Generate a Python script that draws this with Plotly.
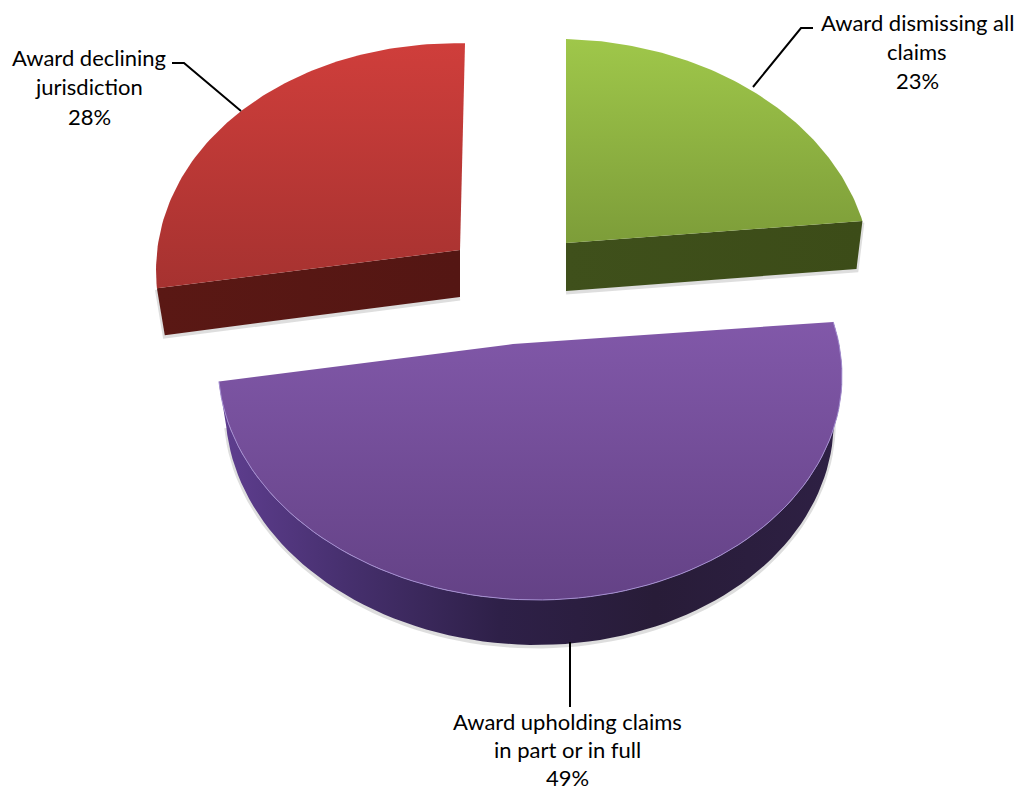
import numpy as np
import plotly.graph_objects as go

# ---- data ----
categories = ["Award dismissing all claims", "Award upholding claims in part or in full", "Award declining jurisdiction"]
values = [23, 49, 28]
label_lines = [["Award dismissing all", "claims"], ["Award upholding claims", "in part or in full"], ["Award declining", "jurisdiction"]]

# ---- drawing settings (one per slice) ----
disc_centre = [(566, 243), (530, 344), (465, 250)]
apex = [(566, 243), (513, 344), (460, 250)]
semi_x = [303, 310, 307]
semi_y = [227, 227, 230]
depth = [48, 45, 47]
shrink = [0.98, 0.975, 0.974]
persp = 0.113
tilt = 6
top_fill = [["#9fc74a", "#7d9d39"], ["#8158a9", "#644286"], ["#cf3e3b", "#a63230"]]
side_fill = [
    [[0, "#3f501b"], [1, "#3c4c18"]],
    [[0, "#5f3e90"], [0.2, "#47306f"], [0.45, "#2e2048"], [0.7, "#281c38"], [1, "#2e2044"]],
    [[0, "#5a1814"], [1, "#541613"]],
]
rim = [None, "#a48ed0", None]
label_pos = [(917, [22, 51, 80]), (567, [721, 749, 777]), (89, [57, 86, 116])]
leaders = [([813, 801, 753], [28, 28, 87]), ([570, 570], [642, 707]), ([172, 184, 241], [63, 63, 111])]
font_family = "Lato"
font_size = 22

fractions = np.array(values) / sum(values)
edges = np.concatenate([[0], np.cumsum(fractions)]) * 2 * np.pi


def arc(i):
    t = np.linspace(edges[i], edges[i + 1], 90)
    s, c = np.sin(t), np.cos(t)
    cx, cy = disc_centre[i]
    w = 1 + persp * c
    return cx + semi_x[i] * s / w, cy - semi_y[i] * c / w + tilt * s


def lower(i, x, y):
    ax = apex[i][0]
    return ax + (np.asarray(x) - ax) * shrink[i], np.asarray(y) + depth[i]


fig = go.Figure()

for i in [0, 2, 1]:
    x, y = arc(i)
    ax, ay = apex[i]
    lx, ly = lower(i, x, y)
    lax, lay = lower(i, [ax], [ay])
    # soft edge under the slice
    if i == 1:
        sx, sy = lx, ly
    else:
        edge_end = -1 if i == 0 else 0
        sx, sy = [x[edge_end], lx[edge_end], lax[0]], [y[edge_end], ly[edge_end], lay[0]]
    fig.add_trace(go.Scatter(x=sx, y=np.asarray(sy) + 1.5, mode="lines", showlegend=False, hoverinfo="skip",
                             line=dict(color="rgba(90,90,90,0.2)", width=4)))
    # side wall
    if i == 1:
        wx = np.concatenate([x, lx[::-1]])
        wy = np.concatenate([y, ly[::-1]])
    else:
        e = -1 if i == 0 else 0
        wx = [ax, x[e], lx[e], lax[0]]
        wy = [ay, y[e], ly[e], lay[0]]
    fig.add_trace(go.Scatter(x=wx, y=wy, mode="lines", fill="toself", showlegend=False, hoverinfo="skip",
                             line=dict(width=0, color=side_fill[i][0][1]),
                             fillgradient=dict(type="horizontal", colorscale=side_fill[i])))
    # top face
    tx = np.concatenate([[ax], x, [ax]])
    ty = np.concatenate([[ay], y, [ay]])
    fig.add_trace(go.Scatter(x=tx, y=ty, mode="lines", fill="toself", name=categories[i],
                             line=dict(width=0, color=top_fill[i][0]),
                             text=f"{values[i]}%", hoverinfo="name+text",
                             fillgradient=dict(type="vertical",
                                               colorscale=[[0, top_fill[i][1]], [1, top_fill[i][0]]])))
    # light rim on the curved edge
    if rim[i]:
        fig.add_trace(go.Scatter(x=x, y=y, mode="lines", showlegend=False, hoverinfo="skip",
                                 line=dict(color=rim[i], width=1)))

for lx, ly in leaders:
    fig.add_trace(go.Scatter(x=lx, y=ly, mode="lines", showlegend=False, hoverinfo="skip",
                             line=dict(color="black", width=2)))

for i, lines in enumerate(label_lines):
    px, pys = label_pos[i]
    for text, py in zip(lines + [f"{values[i]}%"], pys):
        fig.add_annotation(x=px, y=py, text=text, showarrow=False, xanchor="center", yanchor="middle",
                           font=dict(family=font_family, size=font_size, color="#000000"))

fig.update_layout(
    width=1018, height=793, margin=dict(l=0, r=0, t=0, b=0),
    paper_bgcolor="white", plot_bgcolor="white", showlegend=False,
    xaxis=dict(range=[0, 1018], visible=False, fixedrange=True),
    yaxis=dict(range=[793, 0], visible=False, fixedrange=True),
)
fig.write_html("out.html", config={"displayModeBar": False},
               post_script="document.body.style.margin='0';document.body.style.overflow='hidden';")
